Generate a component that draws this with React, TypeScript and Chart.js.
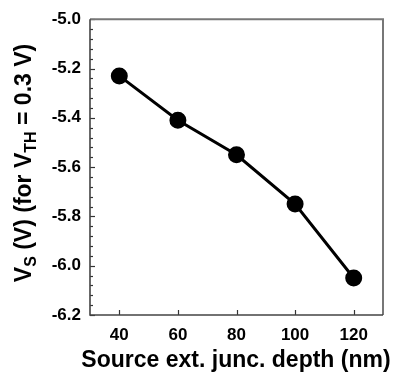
import React, { useEffect, useRef } from 'react';
import { Chart, registerables } from 'chart.js';
Chart.register(...registerables);

const junctionDepth = [40, 60, 80, 100, 120];
const sourceVoltage = [-5.23, -5.41, -5.55, -5.75, -6.05];
const xTickValues = [40, 60, 80, 100, 120];
const yTickValues = [-6.2, -6.0, -5.8, -5.6, -5.4, -5.2, -5.0];
const yMinorStep = 0.04;
const xRange = [30, 130];
const yRange = [-6.2, -5.0];

const FONT = '"Liberation Sans", Arial, sans-serif';

const framePlugin = {
  id: 'frameTicks',
  beforeDatasetsDraw(chart: any) {
    const { ctx, chartArea: a, scales } = chart;
    const x = scales.x, y = scales.y;
    ctx.save();
    ctx.strokeStyle = '#333';
    ctx.lineWidth = 1.2;
    const n = Math.round((yRange[1] - yRange[0]) / yMinorStep);
    for (let i = 0; i <= n; i++) {
      const v = yRange[0] + i * yMinorStep;
      const py = Math.round(y.getPixelForValue(v)) + 0.5;
      const major = i % 5 === 0;
      ctx.beginPath();
      ctx.moveTo(a.left, py);
      ctx.lineTo(a.left + (major ? 5 : 3), py);
      ctx.stroke();
    }
    xTickValues.forEach((v) => {
      const px = Math.round(x.getPixelForValue(v)) + 0.5;
      ctx.beginPath();
      ctx.moveTo(px, a.bottom);
      ctx.lineTo(px, a.bottom - 5);
      ctx.stroke();
    });
    ctx.lineWidth = 2;
    ctx.strokeStyle = '#777';
    ctx.beginPath();
    ctx.moveTo(a.left, a.top);
    ctx.lineTo(a.right, a.top);
    ctx.lineTo(a.right, a.bottom);
    ctx.stroke();
    ctx.strokeStyle = '#444';
    ctx.lineWidth = 1.6;
    ctx.beginPath();
    ctx.moveTo(a.left, a.top);
    ctx.lineTo(a.left, a.bottom);
    ctx.lineTo(a.right, a.bottom);
    ctx.stroke();
    ctx.restore();
  },
  afterDraw(chart: any) {
    const { ctx } = chart;
    ctx.save();
    ctx.fillStyle = '#000';
    ctx.font = `bold 23px ${FONT}`;
    ctx.textAlign = 'center';
    ctx.textBaseline = 'alphabetic';
    ctx.fillText('Source ext. junc. depth (nm)', 236, 367);
    const parts: [string, boolean][] = [
      ['V', false], ['S', true], [' (V) (for V', false], ['TH', true], [' = 0.3 V)', false],
    ];
    const mainFont = `bold 23px ${FONT}`;
    const subFont = `bold 16px ${FONT}`;
    let total = 0;
    const widths = parts.map(([t, sub]) => {
      ctx.font = sub ? subFont : mainFont;
      const w = ctx.measureText(t).width;
      total += w;
      return w;
    });
    ctx.translate(31, 163);
    ctx.rotate(-Math.PI / 2);
    ctx.textAlign = 'left';
    let cx = -total / 2;
    parts.forEach(([t, sub], i) => {
      ctx.font = sub ? subFont : mainFont;
      ctx.fillText(t, cx, sub ? 5 : 0);
      cx += widths[i];
    });
    ctx.restore();
  },
};

export default function App() {
  const ref = useRef<HTMLCanvasElement>(null);
  useEffect(() => {
    document.body.style.margin = '0';
    const chart = new Chart(ref.current!, {
      type: 'line',
      data: {
        datasets: [
          {
            data: junctionDepth.map((d, i) => ({ x: d, y: sourceVoltage[i] })),
            borderColor: '#000',
            backgroundColor: '#000',
            borderWidth: 3,
            pointRadius: 7,
            pointBackgroundColor: '#000',
            pointBorderColor: '#000',
            tension: 0,
          },
        ],
      },
      options: {
        animation: false,
        responsive: true,
        maintainAspectRatio: false,
        layout: { padding: { top: 14, right: 7, left: 0, bottom: 0 } },
        plugins: { legend: { display: false }, tooltip: { enabled: false } },
        scales: {
          x: {
            type: 'linear',
            min: xRange[0],
            max: xRange[1],
            afterBuildTicks: (s: any) => { s.ticks = xTickValues.map((v) => ({ value: v })); },
            afterFit: (s: any) => { s.height = 59; },
            ticks: { color: '#000', font: { family: FONT, size: 17, weight: 'bold' }, padding: 10, maxRotation: 0 },
            grid: { display: true, drawOnChartArea: false, drawTicks: false },
            border: { display: false },
          },
          y: {
            type: 'linear',
            min: yRange[0],
            max: yRange[1],
            afterBuildTicks: (s: any) => { s.ticks = yTickValues.map((v) => ({ value: v })); },
            afterFit: (s: any) => { s.width = 90; },
            ticks: {
              color: '#000',
              font: { family: FONT, size: 17, weight: 'bold' },
              padding: 9,
              callback: (v: any) => Number(v).toFixed(1),
            },
            grid: { display: true, drawOnChartArea: false, drawTicks: false },
            border: { display: false },
          },
        },
      },
      plugins: [framePlugin],
    });
    return () => chart.destroy();
  }, []);
  return (
    <div style={{ position: 'relative', width: 393, height: 374 }}>
      <canvas ref={ref} />
    </div>
  );
}
